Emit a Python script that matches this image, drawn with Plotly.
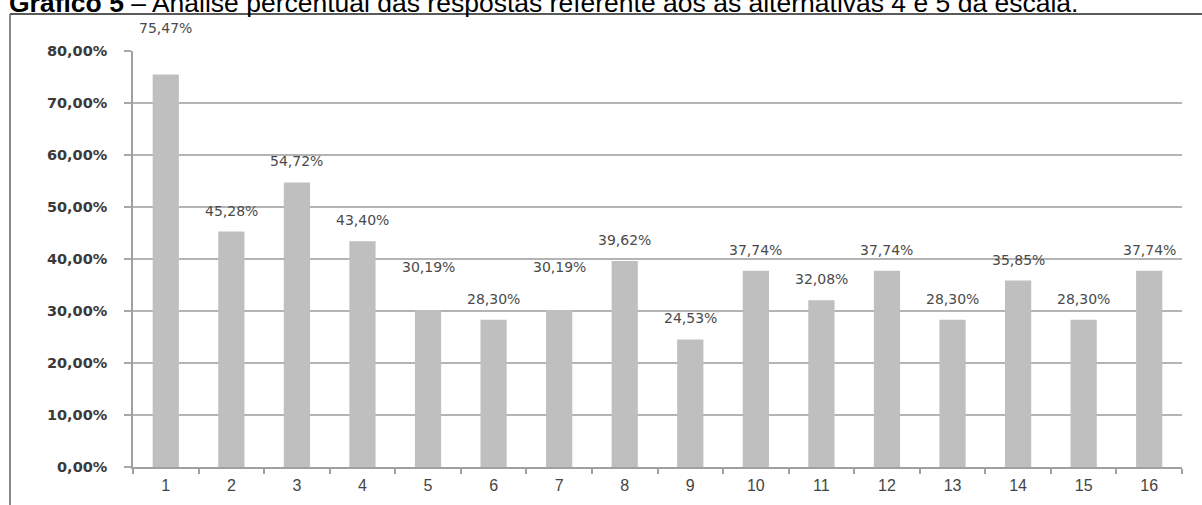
import plotly.graph_objects as go

categories = [str(i) for i in range(1, 17)]
values = [75.47, 45.28, 54.72, 43.40, 30.19, 28.30, 30.19, 39.62,
          24.53, 37.74, 32.08, 37.74, 28.30, 35.85, 28.30, 37.74]
y_ticks = [0, 10, 20, 30, 40, 50, 60, 70, 80]
title_bold = "Gráfico 5"
title_rest = " – Análise percentual das respostas referente aos as alternativas 4 e 5 da escala."

W, H = 1202, 505
L, R, T, B = 133, 20, 51, 38
pw, ph = W - L - R, H - T - B

def px_x(p):
    return (p - L) / pw

def px_y(p):
    return (H - B - p) / ph

def fmt(v):
    return f"{v:.2f}".replace(".", ",") + "%"

fig = go.Figure()
fig.add_trace(go.Bar(
    x=categories, y=[v / 100 for v in values],
    marker=dict(color="#bfbfbf", line=dict(width=0)),
    width=0.4, hoverinfo="skip",
))

label_shift = {0: 47, 4: 43, 6: 43}
annotations = []
for i, v in enumerate(values):
    annotations.append(dict(
        x=i, y=v / 100, xref="x", yref="y", text=fmt(v), showarrow=False,
        yanchor="middle", yshift=label_shift.get(i, 21),
        font=dict(family="DejaVu Sans", size=14, color="#4a4a4a"),
    ))

annotations.append(dict(
    xref="paper", yref="paper", x=px_x(7), y=px_y(20), xanchor="left", yanchor="bottom",
    text=f"<b>{title_bold}</b>{title_rest}", showarrow=False,
    font=dict(family="Liberation Sans", size=26.5, color="#000000"),
))

shapes = [
    dict(type="line", xref="paper", yref="paper", x0=px_x(10), x1=px_x(10),
         y0=px_y(14), y1=px_y(510), line=dict(color="#8a8a8a", width=2)),
    dict(type="line", xref="paper", yref="paper", x0=px_x(10), x1=px_x(1210),
         y0=px_y(14), y1=px_y(14), line=dict(color="#5a5a5a", width=2)),
]

fig.update_layout(
    width=W, height=H,
    margin=dict(l=L, r=R, t=T, b=B, pad=0),
    paper_bgcolor="white", plot_bgcolor="white",
    separators=",.",
    showlegend=False,
    annotations=annotations, shapes=shapes,
    xaxis=dict(
        type="category", tickson="boundaries", ticks="outside", ticklen=5,
        tickcolor="#a0a0a0", tickwidth=1.5,
        showline=True, linecolor="#a0a0a0", linewidth=1.5,
        showgrid=False, range=[-0.5, 15.5], ticklabelstandoff=3,
        tickfont=dict(family="Liberation Sans", size=16, color="#444444"),
    ),
    yaxis=dict(
        range=[0, 0.8], tickvals=[t / 100 for t in y_ticks], tickformat=".2%",
        ticks="outside", ticklen=7, tickcolor="#a8a8a8", tickwidth=1.5,
        showline=True, linecolor="#a0a0a0", linewidth=1.5,
        showgrid=True, gridcolor="#b4b4b4", gridwidth=1.5,
        zeroline=False, ticklabelstandoff=14,
        tickfont=dict(family="DejaVu Sans", size=14.5, color="#3a3a3a", weight="bold"),
    ),
)

fig.write_html("out.html", config={"displayModeBar": False},
               post_script="document.body.style.margin='0';")
